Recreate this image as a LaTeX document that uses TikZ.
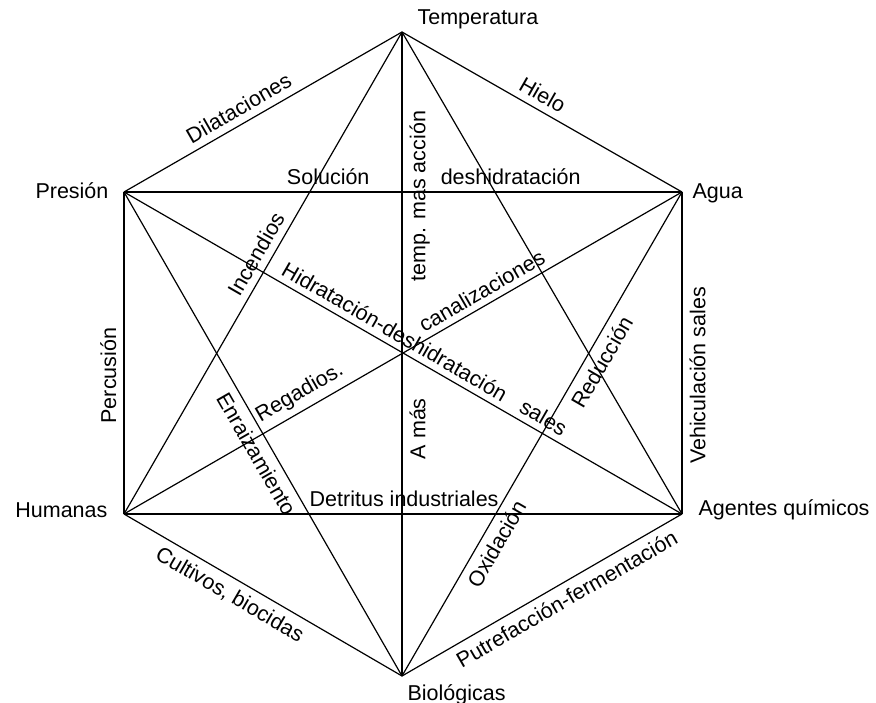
\documentclass[tikz,border=0pt]{standalone}
\usepackage{fontspec}
\setmainfont{Liberation Sans}

\begin{document}
\begin{tikzpicture}[x=1pt,y=-1pt,line width=1.2pt,
  factor/.style={inner sep=0pt,font=\fontsize{21.5}{26}\selectfont},
  effect/.style={sloped,inner sep=2pt,font=\fontsize{21.5}{26}\selectfont}]
\useasboundingbox (0,0) rectangle (876,703);
% corners of the hexagon
\coordinate (T) at (402,32);
\coordinate (A) at (682,192);
\coordinate (Q) at (682,514);
\coordinate (B) at (402,676);
\coordinate (H) at (124,514);
\coordinate (P) at (124,192);
% names of the corners
\node[factor,anchor=base west] (temp) at (417,25) {Temperatura};
\node[factor,anchor=base west] (agua) at (692,199) {Agua};
\node[factor,anchor=base west] (quim) at (698,515) {Agentes químicos};
\node[factor,anchor=base west] (bio) at (407,700) {Biológicas};
\node[factor,anchor=base east] (hum) at (108,517) {Humanas};
\node[factor,anchor=base east] (pres) at (109,199) {Presión};
% sides of the hexagon
\path (P) edge node[effect,above=5pt,pos=.44] {Dilataciones} (T);
\path (T) edge node[effect,above=5pt,pos=.475] {Hielo} (A);
\path (Q) edge node[effect,below=5pt,pos=.43] {Vehiculación sales} (A);
\path (B) edge node[effect,below=5pt,pos=.56] {Putrefacción-fermentación} (Q);
\path (H) edge node[effect,below=5pt,pos=.41] {Cultivos, biocidas} (B);
\path (H) edge node[effect,above=5pt,pos=.43] {Percusión} (P);
% the long diagonals
\path (B) edge node[effect,below=5pt,pos=.384] {A más}
  node[effect,below=5pt,pos=.745] {temp. mas acción} (T);
\path (P) edge node[effect,above=4pt,pos=.526] {Hidratación-deshidratación\hspace{.6em} sales} (Q);
\path (H) edge node[effect,above=4pt,pos=.33] {Regadios.}
  node[effect,above=4pt,pos=.654] {canalizaciones} (A);
% the two triangles
\path (P) edge node[effect,above=5pt,pos=.366] {Solución}
  node[effect,above=5pt,pos=.693] {deshidratación} (A);
\path (H) edge node[effect,above=5pt,pos=.502] {Detritus industriales} (Q);
\path (H) edge node[effect,above=5pt,pos=.523] {Incendios} (T);
\path (P) edge node[effect,below=5pt,pos=.525] {Enraizamiento} (B);
\path (B) edge node[effect,below=5pt,pos=.289] {Oxidación}
  node[effect,below=5pt,pos=.665] {Reducción} (A);
\path (T) edge (Q);
\end{tikzpicture}
\end{document}
